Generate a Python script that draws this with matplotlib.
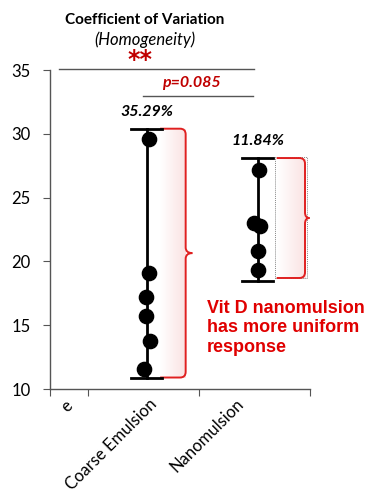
import matplotlib
matplotlib.use('Agg')
import matplotlib.pyplot as plt
import numpy as np
from matplotlib.path import Path
from matplotlib.patches import PathPatch, Rectangle
from matplotlib.colors import LinearSegmentedColormap

# Data
categories = ['Coarse Emulsion', 'Nanomulsion']
coarse_vals = [29.6, 19.1, 17.2, 15.7, 13.8, 11.6]
nano_vals = [27.2, 23.0, 22.8, 20.8, 19.3]
coarse_jitter = [0.02, 0.02, -0.005, -0.005, 0.03, -0.025]
nano_jitter = [0.01, -0.03, 0.02, 0.0, 0.0]
range_lo = [10.9, 18.5]
range_hi = [30.4, 28.1]
cv_labels = ['35.29%', '11.84%']
p_label = 'p=0.085'
sig_label = '**'

RED = '#C00000'
plt.rcParams['font.family'] = ['Lato', 'DejaVu Sans']

fig = plt.figure(figsize=(3.85, 4.93), dpi=100)
ax = fig.add_axes([50 / 385, 1 - 389 / 493, 260 / 385, 319 / 493])

xpos = [1, 2]
ax.scatter(np.array(coarse_jitter) + xpos[0], coarse_vals, s=105, color='black', zorder=4)
ax.scatter(np.array(nano_jitter) + xpos[1], nano_vals, s=105, color='black', zorder=4)

# range bars with caps
for x, lo, hi in zip(xpos, range_lo, range_hi):
    ax.plot([x, x], [lo, hi], color='black', lw=2, zorder=3)
    ax.plot([x - 0.14, x + 0.14], [hi, hi], color='black', lw=2, zorder=3)
    ax.plot([x - 0.14, x + 0.14], [lo, lo], color='black', lw=2, zorder=3)

pink = LinearSegmentedColormap.from_list('pk', ['#ffffff', '#fae2e2'])
grad = np.linspace(0, 1, 50).reshape(1, -1)


def brace(xl, xr, lo, hi, tip, rx=0.05, ry=0.45):
    ym = (lo + hi) / 2
    verts = [(xl, hi), (xr - rx, hi), (xr, hi), (xr, hi - ry),
             (xr, ym + ry), (xr, ym), (xr + tip, ym),
             (xr, ym), (xr, ym - ry),
             (xr, lo + ry), (xr, lo), (xr - rx, lo), (xl, lo)]
    codes = [Path.MOVETO, Path.LINETO, Path.CURVE3, Path.CURVE3,
             Path.LINETO, Path.CURVE3, Path.CURVE3,
             Path.CURVE3, Path.CURVE3,
             Path.LINETO, Path.CURVE3, Path.CURVE3, Path.LINETO]
    return Path(verts, codes)


# coarse emulsion brace
ax.imshow(grad, cmap=pink, extent=[1.12, 1.35, range_lo[0], range_hi[0]],
          aspect='auto', zorder=1)
ax.add_patch(PathPatch(brace(1.12, 1.35, range_lo[0], range_hi[0], 0.06),
                       fill=False, edgecolor='#e02020', lw=1.4, zorder=2))

# nanomulsion brace
ax.imshow(grad, cmap=pink, extent=[2.17, 2.43, range_lo[1] + 0.1, range_hi[1] - 0.1],
          aspect='auto', zorder=1)
ax.add_patch(Rectangle((2.155, range_lo[1] + 0.2), 0.29, range_hi[1] - range_lo[1] - 0.1,
                       fill=False, edgecolor='#888888', lw=0.7, ls=(0, (1, 1)), zorder=2))
ax.add_patch(PathPatch(brace(2.17, 2.425, range_lo[1] + 0.2, range_hi[1], 0.04),
                       fill=False, edgecolor='#e02020', lw=1.4, zorder=2))

ax.set_xlim(0.128, 2.47)
ax.set_ylim(10, 35)

ax.spines['top'].set_visible(False)
ax.spines['right'].set_visible(False)
for s in ['left', 'bottom']:
    ax.spines[s].set_color('#555555')
    ax.spines[s].set_linewidth(1.0)
ax.set_yticks([10, 15, 20, 25, 30, 35])
ax.tick_params(axis='y', labelsize=12, length=5, color='#555555', pad=9)
ax.set_xticks([0.128, 0.47, 1.47, 2.47])
ax.set_xticklabels([])
ax.tick_params(axis='x', length=5, color='#555555')

# rotated category labels
ax.text(0.26, 9.35, 'e', rotation=45, rotation_mode='anchor', ha='right', va='top',
        fontsize=12, clip_on=False)
for x, lab in zip([1.02, 1.8], categories):
    ax.text(x, 9.45, lab, rotation=45, rotation_mode='anchor', ha='right', va='top',
            fontsize=12, clip_on=False)

# significance lines
ax.plot([0.21, 1.966], [35.05, 35.05], color='#555555', lw=1.0, clip_on=False)
ax.text(0.94, 35.75, sig_label, color=RED, fontsize=17, fontweight='bold',
        family='DejaVu Sans', ha='center', va='center', clip_on=False)
ax.plot([0.966, 1.957], [33.0, 33.0], color='#555555', lw=1.0, clip_on=False)
ax.text(1.40, 33.95, p_label, color=RED, fontsize=11.5, fontweight='bold', style='italic',
        ha='center', va='center', clip_on=False)

# CV labels
for x, y, lab in zip(xpos, [31.7, 29.45], cv_labels):
    ax.text(x, y, lab, fontsize=11.5, fontweight='bold', style='italic',
            ha='center', va='center', clip_on=False)

ax.text(1.54, 17.0, 'Vit D nanomulsion\nhas more uniform\nresponse', color='#e00000',
        fontsize=13, fontweight='bold', family='Liberation Sans',
        ha='left', va='top', linespacing=1.2)

fig.text(145 / 385, 1 - 19.5 / 493, 'Coefficient of Variation', fontsize=11,
         fontweight='bold', ha='center', va='center')
fig.text(145 / 385, 1 - 40 / 493, '(Homogeneity)', fontsize=12, style='italic',
         ha='center', va='center')

fig.savefig('out.png', dpi=100)
